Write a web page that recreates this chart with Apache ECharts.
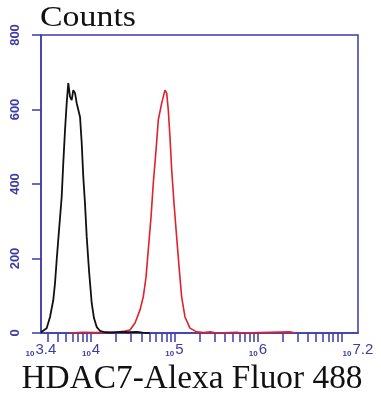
<!DOCTYPE html>
<html><head><meta charset="utf-8">
<script src="https://cdn.jsdelivr.net/npm/echarts@6/dist/echarts.min.js"></script>
<style>html,body{margin:0;padding:0;background:#fff}#c{width:381px;height:400px}</style>
</head><body><div id="c"></div>
<script>
// x values are log10(fluorescence)
const blackX = [3.40,3.468,3.508,3.547,3.568,3.588,3.616,3.648,3.667,3.688,3.708,3.727,3.748,3.768,3.787,3.808,3.828,3.868,3.888,3.907,3.927,3.948,3.975,4.008,4.035,4.068,4.107,4.167,4.25,4.35,4.45,4.55,4.62,4.70];
const blackY = [2,13,43,88,134,196,276,365,456,545,617,671,634,625,652,644,617,580,510,419,349,258,169,80,40,16,6,2,1,3,2,3,1,0];
const redX = [3.75,3.9,4.05,4.191,4.347,4.407,4.467,4.527,4.587,4.626,4.659,4.686,4.719,4.746,4.779,4.806,4.847,4.886,4.907,4.926,4.946,4.967,4.994,5.026,5.058,5.086,5.126,5.186,5.266,5.35,5.43,5.5,5.75,5.8,6.38,6.45];
const redY = [0,2,1,2,3,5,8,27,62,97,150,223,311,402,491,572,617,652,644,598,526,437,349,258,169,97,43,13,3,1,3,0,2,0,3,0];
const xLabelExps = ['3.4','4','5','6','7.2'];
const xLabelPos = [3.4,4,5,6,7.2];
const yTicks = [0,200,400,600,800];
const titleText = 'Counts';
const xTitle = 'HDAC7-Alexa Fluor 488';

const minorTicks = [];
for (let d = 3; d <= 7; d++) {
  for (let k = 1; k <= 9; k++) {
    const v = Math.log10(k * Math.pow(10, d));
    if (v >= 3.4 && v <= 7.2) minorTicks.push(v);
  }
}
const mctx = document.createElement('canvas').getContext('2d');
function fitScale(text, font, target) { mctx.font = font; return target / mctx.measureText(text).width; }
const titleFont = '30px "Liberation Serif"';
const xTitleFont = '33px "Liberation Serif"';
const blue = '#3c3ca8';
const chart = echarts.init(document.getElementById('c'));
chart.setOption({
  animation: false,
  grid: { left: 41, right: 23, top: 35, bottom: 67, show: true, borderColor: blue, borderWidth: 1.5 },
  xAxis: {
    type: 'value', min: 3.4, max: 7.2,
    axisLine: { show: true, lineStyle: { color: blue, width: 1.5 } },
    axisTick: { show: true, customValues: minorTicks, length: 9, lineStyle: { color: blue, width: 1.5 } },
    axisLabel: {
      customValues: xLabelPos, margin: 9,
      formatter: v => { const i = xLabelPos.findIndex(p => Math.abs(p - v) < 1e-6); return '{a|10}{b|' + (i >= 0 ? xLabelExps[i] : '') + '}'; },
      rich: { a: { fontSize: 8, color: blue, fontFamily: 'Liberation Sans', fontWeight: 'bold', verticalAlign: 'bottom', padding: [8,1,0,0] }, b: { fontSize: 15, color: blue, fontFamily: 'Liberation Sans' } }
    },
    splitLine: { show: false }
  },
  yAxis: {
    type: 'value', min: 0, max: 800, interval: 200,
    axisLine: { show: true, lineStyle: { color: blue, width: 1.5 } },
    axisTick: { show: true, length: 9, lineStyle: { color: blue, width: 1.5 } },
    axisLabel: { rotate: 90, color: blue, fontSize: 13, fontWeight: 'bold', fontFamily: 'Liberation Sans', margin: 19 },
    splitLine: { show: false }
  },
  graphic: [
    { type: 'text', x: 40, y: 18.5, scaleX: fitScale(titleText, titleFont, 96), style: { text: titleText, font: titleFont, fill: '#111', align: 'left', verticalAlign: 'middle' } },
    { type: 'text', x: 21.5, y: 379, scaleX: fitScale(xTitle, xTitleFont, 341), style: { text: xTitle, font: xTitleFont, fill: '#111', align: 'left', verticalAlign: 'middle' } }
  ],
  series: [
    { type: 'line', data: redX.map((x, i) => [x, redY[i]]), showSymbol: false, lineStyle: { color: '#e0202a', width: 1.6 }, z: 2 },
    { type: 'line', data: blackX.map((x, i) => [x, blackY[i]]), showSymbol: false, lineStyle: { color: '#111', width: 1.8 }, z: 3 }
  ]
});
</script></body></html>
